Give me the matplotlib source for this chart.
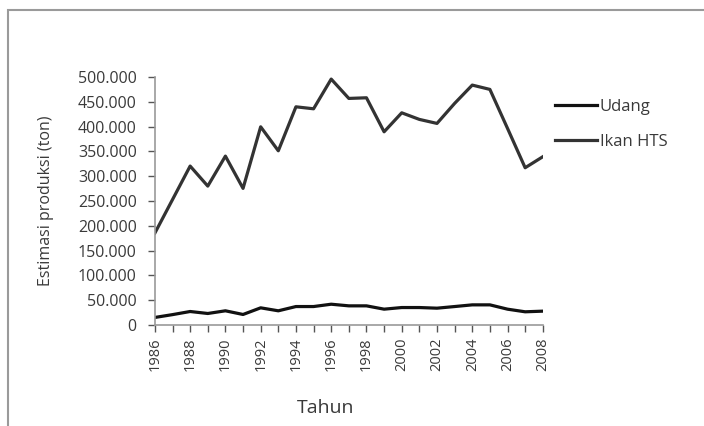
import matplotlib.pyplot as plt
from matplotlib.ticker import FuncFormatter, MultipleLocator
from matplotlib.patches import Rectangle

tahun = list(range(1986, 2009))
udang = [15300, 21000, 27300, 23300, 28700, 21300, 34700, 28700, 37300, 37300,
         42000, 38700, 38700, 32000, 35300, 35300, 34000, 37300, 40700, 40700,
         32000, 26700, 28000]
ikan_hts = [185500, 253000, 320600, 280200, 340700, 275600, 399800, 351400, 440100, 436100,
            496000, 457000, 458300, 389700, 428000, 414700, 406600, 447000, 483900, 475200,
            396600, 317200, 339400]

plt.rcParams['font.family'] = ['Open Sans', 'DejaVu Sans']
warna_teks = '#3a3a3a'

fig = plt.figure(figsize=(7.04, 4.26), dpi=100)
ax = fig.add_axes([0.220, 0.237, 0.551, 0.582])

ax.plot(tahun, udang, color='#111111', linewidth=2.3, label='Udang')
ax.plot(tahun, ikan_hts, color='#333333', linewidth=2.3, label='Ikan HTS')

ax.set_xlim(1986, 2008)
ax.set_ylim(0, 500000)
ax.xaxis.set_major_locator(MultipleLocator(2))
ax.xaxis.set_minor_locator(MultipleLocator(1))
ax.yaxis.set_major_locator(MultipleLocator(50000))
ax.yaxis.set_major_formatter(FuncFormatter(lambda v, p: f'{int(v):,}'.replace(',', '.')))

for s in ['top', 'right']:
    ax.spines[s].set_visible(False)
for s in ['left', 'bottom']:
    ax.spines[s].set_color('#9a9a9a')
    ax.spines[s].set_linewidth(1.2)

ax.tick_params(axis='both', which='both', direction='out', color='#555555',
               labelcolor=warna_teks)
ax.tick_params(axis='x', which='both', length=5, width=1, labelsize=10.5, pad=4)
ax.tick_params(axis='y', length=5, width=1, labelsize=11.5, pad=8)
plt.setp(ax.get_xticklabels(), rotation=90)

ax.set_xlabel('Tahun', fontsize=14, color=warna_teks)
ax.xaxis.set_label_coords(0.44, -0.30)
ax.set_ylabel('Estimasi produksi (ton)', fontsize=11.5, color=warna_teks)
ax.yaxis.set_label_coords(-0.26, 0.5)

leg = ax.legend(loc='upper left', bbox_to_anchor=(1.01, 0.945), frameon=False,
                fontsize=12, handlelength=2.5, handletextpad=0.2, labelspacing=1.15,
                borderpad=0)
for t in leg.get_texts():
    t.set_color(warna_teks)

# bingkai abu-abu di tepi gambar
fig.patches.append(Rectangle((8 / 704, -0.1), 1.2, 1 - 10 / 426 + 0.1,
                             transform=fig.transFigure, fill=False,
                             edgecolor='#9a9a9a', linewidth=1.5))

fig.savefig('out.png', dpi=100)
